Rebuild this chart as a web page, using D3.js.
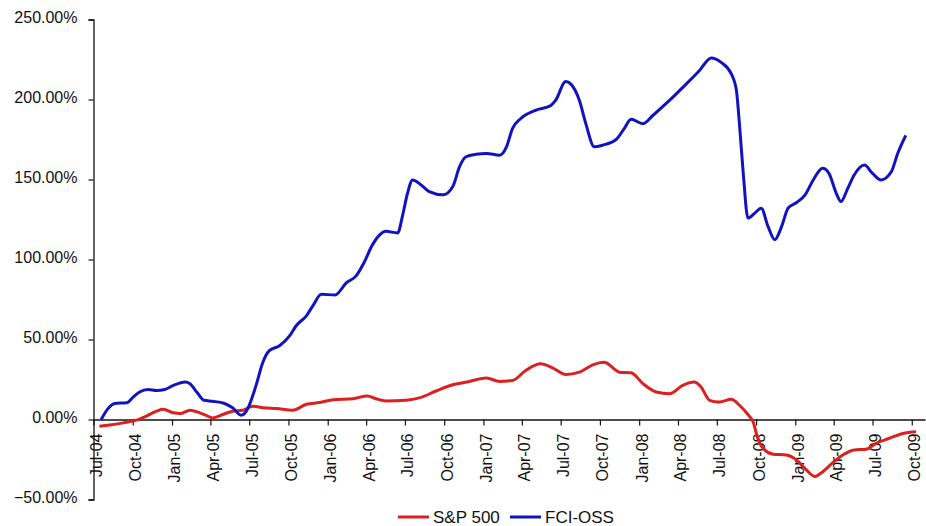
<!DOCTYPE html>
<html>
<head>
<meta charset="utf-8">
<script src="https://cdn.jsdelivr.net/npm/d3@7"></script>
<style>
    html, body { margin: 0; padding: 0; background: #fff; }
    svg text { font-family: "Liberation Sans", Arial, sans-serif; fill: #111; }
</style>
</head>
<body>
<div id="wrapper"></div>
<script>
// Data (percent change since Jul-04)
const spDates = [
    "2004-07-15", "2004-08-08", "2004-09-09", "2004-10-10", "2004-11-03", "2004-11-26", "2004-12-11",
    "2005-01-04", "2005-01-20", "2005-02-12", "2005-03-06", "2005-03-21", "2005-04-06", "2005-04-30",
    "2005-05-23", "2005-06-16", "2005-07-09", "2005-08-02", "2005-09-03", "2005-10-11", "2005-11-12",
    "2005-12-13", "2006-01-14", "2006-03-01", "2006-04-04", "2006-04-24", "2006-05-17", "2006-07-03",
    "2006-08-04", "2006-09-12", "2006-10-21", "2006-11-29", "2007-01-08", "2007-02-08", "2007-03-10",
    "2007-04-10", "2007-05-15", "2007-06-12", "2007-07-13", "2007-08-14", "2007-09-14", "2007-10-11",
    "2007-11-16", "2007-12-13", "2008-01-10", "2008-02-10", "2008-03-12", "2008-04-12", "2008-05-09",
    "2008-05-25", "2008-06-14", "2008-07-07", "2008-08-04", "2008-08-23", "2008-09-12", "2008-09-24",
    "2008-10-05", "2008-10-21", "2008-11-10", "2008-12-11", "2009-01-04", "2009-01-27", "2009-02-16",
    "2009-03-02", "2009-03-29", "2009-04-22", "2009-05-19", "2009-06-16", "2009-07-09", "2009-08-09",
    "2009-09-10", "2009-10-11"
];
const spValues = [
    -4.2, -3.5, -2.1, -0.4, 2.3, 5.2, 6.4,
    4.2, 3.7, 5.8, 4.3, 2.7, 1.0, 3.1,
    5.2, 5.8, 8.3, 7.3, 6.8, 5.8, 9.5,
    10.6, 12.4, 13.0, 14.7, 13.0, 11.6, 12.0,
    13.5, 17.8, 21.7, 23.8, 25.9, 23.8, 24.4,
    30.6, 34.8, 32.3, 28.1, 29.6, 34.2, 35.8,
    29.6, 29.2, 22.4, 17.2, 16.1, 21.3, 23.4,
    20.3, 12.0, 10.9, 12.6, 8.9, 3.1, -1.4,
    -11.8, -19.0, -21.7, -22.2, -25.3, -31.5, -35.6,
    -33.5, -27.3, -22.2, -19.0, -18.6, -14.9, -11.8,
    -8.7, -7.6
];

const fciDates = [
    "2004-07-19", "2004-08-04", "2004-08-20", "2004-09-17", "2004-10-02", "2004-10-17", "2004-11-06",
    "2004-11-26", "2004-12-15", "2005-01-04", "2005-02-01", "2005-02-12", "2005-02-28", "2005-03-17",
    "2005-04-06", "2005-05-04", "2005-05-23", "2005-06-12", "2005-06-19", "2005-07-01", "2005-07-17",
    "2005-08-02", "2005-08-17", "2005-09-10", "2005-10-04", "2005-10-19", "2005-11-12", "2005-11-27",
    "2005-12-17", "2006-01-18", "2006-02-14", "2006-03-08", "2006-03-27", "2006-04-16", "2006-05-01",
    "2006-05-17", "2006-06-14", "2006-06-25", "2006-07-07", "2006-07-19", "2006-08-08", "2006-08-27",
    "2006-09-28", "2006-10-21", "2006-11-06", "2006-11-21", "2006-12-15", "2007-01-08", "2007-02-08",
    "2007-02-24", "2007-03-10", "2007-03-29", "2007-05-03", "2007-06-08", "2007-06-19", "2007-07-13",
    "2007-07-25", "2007-08-14", "2007-08-29", "2007-09-18", "2007-10-07", "2007-11-08", "2007-11-27",
    "2007-12-13", "2008-01-10", "2008-02-02", "2008-03-12", "2008-04-20", "2008-05-21", "2008-06-18",
    "2008-07-11", "2008-08-04", "2008-08-16", "2008-08-23", "2008-09-01", "2008-09-12", "2008-09-28",
    "2008-10-13", "2008-10-29", "2008-11-14", "2008-11-30", "2008-12-15", "2009-01-04", "2009-01-24",
    "2009-02-12", "2009-03-06", "2009-03-21", "2009-04-07", "2009-04-18", "2009-05-04", "2009-05-19",
    "2009-06-12", "2009-07-01", "2009-07-21", "2009-08-14", "2009-08-29", "2009-09-17"
];
const fciValues = [
    0, 6.8, 10.0, 10.5, 14.0, 17.2, 18.8,
    18.2, 18.8, 21.3, 23.4, 22.4, 17.2, 12.0,
    11.4, 10.0, 7.3, 2.7, 3.5, 8.9, 21.3,
    35.8, 43.0, 46.1, 52.4, 58.6, 64.8, 71.0,
    78.3, 77.8, 85.5, 89.6, 98.0, 109.3, 114.9,
    117.6, 116.6, 126.9, 141.4, 149.7, 146.6, 142.4,
    140.4, 145.5, 158.0, 164.2, 165.8, 166.3, 165.2,
    170.4, 181.8, 188.0, 193.2, 196.3, 199.4, 211.3,
    209.6, 199.4, 184.9, 170.4, 171.4, 175.0, 181.8,
    187.6, 184.9, 190.0, 199.4, 209.6, 218.0, 225.9,
    223.2, 216.0, 205.6, 184.9, 153.8, 125.9, 129.0,
    132.1, 120.7, 112.4, 120.7, 132.1, 135.6, 140.4,
    149.7, 157.0, 153.8, 141.4, 136.2, 144.5, 152.8,
    159.0, 153.8, 149.7, 154.8, 166.3, 177.6
];

const seriesNames = ["S&P 500", "FCI-OSS"];
const seriesColors = ["#dc1f1f", "#1014c0"];
const yTicks = [-50, 0, 50, 100, 150, 200, 250];
const xDomain = ["2004-07-01", "2009-11-01"];

// Constants
const WIDTH = 926;
const HEIGHT = 526;
const parseDate = d3.timeParse("%Y-%m-%d");

const dimensions = {
    width: WIDTH,
    height: HEIGHT,
    left: 93.5,
    right: 925,
    top: 19.5,
    bottom: 499.5,
};

function drawChart() {
    const series = [
        { name: seriesNames[0], color: seriesColors[0], points: spDates.map((d, i) => ({ date: parseDate(d), value: spValues[i] })) },
        { name: seriesNames[1], color: seriesColors[1], points: fciDates.map((d, i) => ({ date: parseDate(d), value: fciValues[i] })) },
    ];

    const svg = d3.select("#wrapper")
        .append("svg")
        .attr("width", dimensions.width)
        .attr("height", dimensions.height);

    // Scales
    const xScale = d3.scaleTime()
        .domain(xDomain.map(parseDate))
        .range([dimensions.left, dimensions.right]);

    const yScale = d3.scaleLinear()
        .domain([-50, 250])
        .range([dimensions.bottom, dimensions.top]);

    // Y axis
    const yAxis = d3.axisLeft(yScale)
        .tickValues(yTicks)
        .tickSize(5)
        .tickPadding(11)
        .tickFormat(d => d3.format(".2f")(d) + "%");

    const yAxisGroup = svg.append("g")
        .attr("transform", `translate(${dimensions.left},0)`)
        .call(yAxis);
    yAxisGroup.select(".domain").attr("stroke", "#111").attr("stroke-width", 1.3);
    yAxisGroup.selectAll(".tick line").attr("stroke", "#111").attr("stroke-width", 1.2);
    yAxisGroup.selectAll(".tick text")
        .attr("font-size", 16)
        .attr("dy", "0.2em");

    // X axis at zero
    const xAxis = d3.axisBottom(xScale)
        .ticks(d3.timeMonth.every(3))
        .tickSize(6)
        .tickSizeOuter(0)
        .tickFormat(d3.timeFormat("%b-%y"));

    const xAxisGroup = svg.append("g")
        .attr("transform", `translate(0,${yScale(0)})`)
        .call(xAxis);
    xAxisGroup.select(".domain").attr("stroke", "#111").attr("stroke-width", 1.3);
    xAxisGroup.selectAll(".tick line").attr("stroke", "#111").attr("stroke-width", 1.2);
    xAxisGroup.selectAll(".tick text")
        .attr("font-size", 16)
        .attr("text-anchor", "end")
        .attr("transform", "rotate(-90)")
        .attr("x", -14)
        .attr("y", 0)
        .attr("dy", "0.5em");

    // Lines
    const lineGenerator = d3.line()
        .x(d => xScale(d.date))
        .y(d => yScale(d.value))
        .curve(d3.curveMonotoneX);

    svg.append("g")
        .selectAll("path")
        .data(series)
        .join("path")
        .attr("fill", "none")
        .attr("stroke", d => d.color)
        .attr("stroke-width", 3)
        .attr("stroke-linejoin", "round")
        .attr("d", d => lineGenerator(d.points));

    // Legend
    const legendX = [398, 510];
    const legend = svg.append("g")
        .attr("transform", "translate(0,517)");
    const items = legend.selectAll("g")
        .data(series)
        .join("g")
        .attr("transform", (d, i) => `translate(${legendX[i]},0)`);
    items.append("line")
        .attr("x1", 0)
        .attr("x2", 31)
        .attr("stroke", d => d.color)
        .attr("stroke-width", 3);
    items.append("text")
        .attr("x", 35)
        .attr("dy", "0.36em")
        .attr("font-size", 17)
        .text(d => d.name);
}
drawChart();
</script>
</body>
</html>
